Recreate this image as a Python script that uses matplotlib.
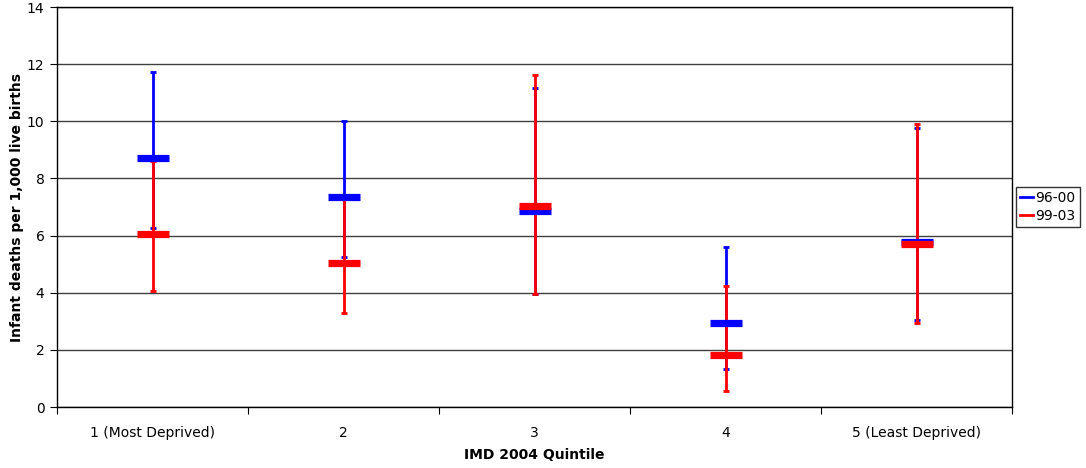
from matplotlib import pyplot as plt
from matplotlib.lines import Line2D
import numpy as np

# data
categories = ["1 (Most Deprived)", "2", "3", "4", "5 (Least Deprived)"]
series_names = ["96-00", "99-03"]
high_9600 = [11.74, 10.01, 11.15, 5.59, 9.78]
low_9600 = [6.28, 5.26, 3.95, 1.34, 3.05]
close_9600 = [8.72, 7.36, 6.87, 2.93, 5.79]
high_9903 = [8.62, 7.28, 11.62, 4.25, 9.89]
low_9903 = [4.06, 3.28, 3.94, 0.56, 2.93]
close_9903 = [6.04, 5.03, 7.05, 1.81, 5.69]

plt.rcParams['font.family'] = ['DejaVu Sans']
fig = plt.figure(figsize=(10.86, 4.68), dpi=100)
ax = fig.add_axes([0.0525, 0.1303, 0.8794, 0.8547])

x = np.arange(len(categories)) + 0.5
series = [
    (high_9600, low_9600, close_9600, "#0000ff"),
    (high_9903, low_9903, close_9903, "#ff0000"),
]
for i, (hi, lo, cl, col) in enumerate(series):
    z = 3 + i
    ax.vlines(x, lo, hi, color=col, lw=2, zorder=z)
    ax.plot(x, hi, ls="none", marker="_", ms=4.5, mew=2, color=col, zorder=z)
    ax.plot(x, lo, ls="none", marker="_", ms=4.5, mew=2, color=col, zorder=z)
for i, (hi, lo, cl, col) in enumerate(series):
    ax.plot(x, cl, ls="none", marker="_", ms=23, mew=5.2, color=col, zorder=5 + i)

ax.set_xlim(0, len(categories))
ax.set_ylim(0, 14)
ax.set_yticks(range(0, 15, 2))
ax.set_xticks(range(0, len(categories) + 1))
ax.set_xticklabels([])
ax.set_xticks(x, minor=True)
ax.set_xticklabels(categories, minor=True, fontsize=10)
ax.tick_params(axis="x", which="minor", length=0, pad=13.5)
ax.tick_params(axis="x", which="major", direction="out", length=5, color="black")
ax.tick_params(axis="y", direction="out", length=5, labelsize=10, pad=4)
ax.grid(axis="y", color="#404040", lw=1)
ax.set_axisbelow(True)
for s in ax.spines.values():
    s.set_color("black")
    s.set_linewidth(1)

ax.set_xlabel("IMD 2004 Quintile", fontsize=10, fontweight="bold", labelpad=6)
ax.set_ylabel("Infant deaths per 1,000 live births", fontsize=10, fontweight="bold", labelpad=2)

handles = [Line2D([], [], color=c, lw=2) for c in ["#0000ff", "#ff0000"]]
leg = ax.legend(handles, series_names, loc="center left", bbox_to_anchor=(1.004, 0.5),
                frameon=True, fancybox=False, edgecolor="black", fontsize=10,
                handlelength=0.9, handletextpad=0.2, borderaxespad=0, borderpad=0.3,
                labelspacing=0.3)
leg.get_frame().set_linewidth(1)

plt.savefig("out.png", dpi=100)
